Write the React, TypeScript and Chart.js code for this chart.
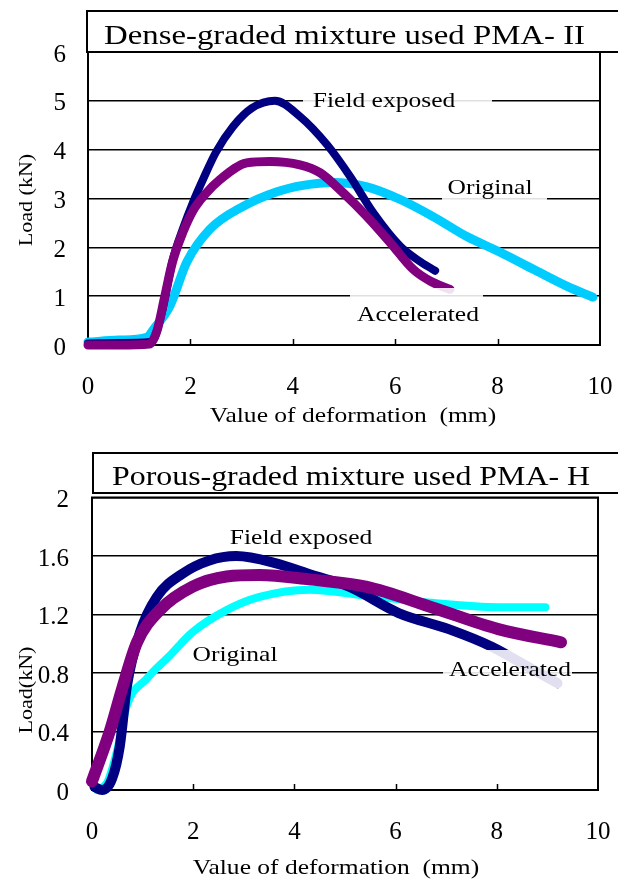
import React, { useEffect, useRef } from 'react';
import { Chart, registerables } from 'chart.js';

Chart.register(...registerables);

// ---------- Data: Dense-graded mixture (PMA-II) ----------
const denseFieldX = [0, 0.6, 1.2, 1.3, 1.45, 1.66, 1.86, 2.05, 2.25, 2.5, 2.83, 3.2, 3.65, 4.14, 4.67, 5.12, 5.57, 6.1, 6.5, 6.78];
const denseFieldY = [0.03, 0.04, 0.06, 0.15, 0.7, 1.76, 2.4, 2.92, 3.4, 3.95, 4.47, 4.85, 5.0, 4.68, 4.1, 3.45, 2.71, 2.02, 1.7, 1.52];
const denseAccelX = [0, 0.6, 1.2, 1.35, 1.5, 1.65, 1.85, 2.05, 2.3, 2.58, 3.1, 3.55, 4.14, 4.53, 4.98, 5.45, 5.9, 6.35, 6.7, 7.07];
const denseAccelY = [0.0, 0.0, 0.02, 0.3, 1.0, 1.7, 2.3, 2.75, 3.1, 3.39, 3.73, 3.76, 3.69, 3.53, 3.12, 2.63, 2.1, 1.55, 1.3, 1.14];
const denseOrigX = [0, 0.6, 1.15, 1.3, 1.6, 1.93, 2.38, 3.03, 3.69, 4.2, 4.79, 5.45, 6.1, 6.74, 7.4, 8.05, 8.7, 9.36, 9.86];
const denseOrigY = [0.06, 0.1, 0.16, 0.35, 0.8, 1.7, 2.37, 2.84, 3.14, 3.27, 3.33, 3.24, 2.98, 2.63, 2.22, 1.9, 1.55, 1.2, 0.98];

// ---------- Data: Porous-graded mixture (PMA-H) ----------
const porousFieldX = [0.05, 0.2, 0.4, 0.55, 0.69, 0.95, 1.28, 1.79, 2.32, 2.85, 3.64, 4.35, 5.08, 6.06, 7.05, 7.9, 8.68, 9.2];
const porousFieldY = [0.02, 0.0, 0.08, 0.3, 0.71, 1.08, 1.32, 1.48, 1.57, 1.6, 1.55, 1.47, 1.39, 1.21, 1.1, 0.98, 0.83, 0.73];
const porousAccelX = [0, 0.35, 0.61, 0.89, 1.34, 1.99, 2.66, 3.31, 4.29, 5.41, 6.71, 8.03, 9.27];
const porousAccelY = [0.06, 0.4, 0.71, 1.01, 1.23, 1.39, 1.46, 1.47, 1.44, 1.39, 1.25, 1.1, 1.01];
const porousOrigX = [0.1, 0.3, 0.49, 0.69, 1.08, 1.54, 1.99, 2.66, 3.31, 4.29, 5.41, 6.71, 8.03, 8.96];
const porousOrigY = [0.0, 0.05, 0.26, 0.58, 0.76, 0.92, 1.08, 1.23, 1.32, 1.37, 1.33, 1.28, 1.25, 1.25];

// ---------- Ticks & labels ----------
const xTickValues = [0, 2, 4, 6, 8, 10];
const xTickLabels = ['0', '2', '4', '6', '8', '10'];
const denseYTickLabels = ['0', '1', '2', '3', '4', '5', '6'];
const porousYTickLabels = ['0', '0.4', '0.8', '1.2', '1.6', '2'];
const seriesNames = ['Accelerated', 'Field exposed', 'Original'];
const xTitle = 'Value of deformation  (mm)';

const FONT = "'Liberation Serif', 'Times New Roman', serif";
const STRETCH = 1.16;

const pts = (xs: number[], ys: number[]) => xs.map((x, i) => ({ x, y: ys[i] }));

type Lbl = { text: string; x: number; y: number; size: number; rot?: number; box?: number[] };
type Spec = {
  title: string; titleX: number; titleBase: number; titleWidth: number; titleBox: number[];
  labels: Lbl[];
};

function drawStretched(ctx: CanvasRenderingContext2D, l: Lbl) {
  ctx.save();
  ctx.translate(l.x, l.y);
  if (l.rot) ctx.rotate(l.rot);
  ctx.scale(STRETCH, 1);
  ctx.font = `${l.size}px ${FONT}`;
  ctx.fillStyle = '#000';
  ctx.textAlign = 'center';
  ctx.textBaseline = 'middle';
  ctx.fillText(l.text, 0, 0);
  ctx.restore();
}

function makeDecor(spec: Spec) {
  return {
    id: 'decor',
    beforeDatasetsDraw(chart: any) {
      const { ctx, chartArea: a, scales } = chart;
      ctx.save();
      ctx.strokeStyle = '#000';
      ctx.lineWidth = 1.5;
      for (const v of xTickValues.slice(1, -1)) {
        const px = Math.round(scales.x.getPixelForValue(v)) + 0.5;
        ctx.beginPath();
        ctx.moveTo(px, a.bottom);
        ctx.lineTo(px, a.bottom - 6);
        ctx.stroke();
      }
      ctx.lineWidth = 2;
      ctx.strokeRect(a.left, a.top, a.right - a.left, a.bottom - a.top);
      ctx.restore();
    },
    afterDatasetsDraw(chart: any) {
      const ctx = chart.ctx as CanvasRenderingContext2D;
      for (const l of spec.labels) {
        if (l.box) {
          ctx.save();
          ctx.fillStyle = 'rgba(255,255,255,0.88)';
          ctx.fillRect(l.box[0], l.box[1], l.box[2], l.box[3]);
          ctx.restore();
        }
        drawStretched(ctx, l);
      }
    },
    afterDraw(chart: any) {
      const ctx = chart.ctx as CanvasRenderingContext2D;
      ctx.save();
      ctx.strokeStyle = '#000';
      ctx.lineWidth = 2;
      const b = spec.titleBox;
      ctx.strokeRect(b[0], b[1], b[2], b[3]);
      ctx.font = `28px ${FONT}`;
      ctx.fillStyle = '#000';
      ctx.textAlign = 'left';
      ctx.textBaseline = 'alphabetic';
      const w = ctx.measureText(spec.title).width;
      ctx.translate(spec.titleX, spec.titleBase);
      ctx.scale(spec.titleWidth / w, 1);
      ctx.fillText(spec.title, 0, 0);
      ctx.restore();
    },
  };
}

function makeConfig(opts: {
  series: { x: number[]; y: number[] }[];
  colors: string[];
  widths: number[];
  yMax: number; yStep: number; yLabels: string[];
  yWidth: number; xHeight: number; padding: any; yPad: number;
  spec: Spec;
}): any {
  return {
    type: 'line',
    data: {
      datasets: opts.series.map((s, i) => ({
        label: seriesNames[i],
        data: pts(s.x, s.y),
        borderColor: opts.colors[i],
        backgroundColor: opts.colors[i],
        borderWidth: opts.widths[i],
        pointRadius: 0,
        fill: false,
        cubicInterpolationMode: 'monotone',
        borderCapStyle: 'round',
        borderJoinStyle: 'round',
        clip: false,
      })),
    },
    options: {
      animation: false,
      responsive: false,
      maintainAspectRatio: false,
      devicePixelRatio: 1,
      layout: { padding: opts.padding },
      plugins: { legend: { display: false }, tooltip: { enabled: false }, title: { display: false } },
      scales: {
        x: {
          type: 'linear',
          min: 0,
          max: 10,
          grid: { display: false, drawTicks: false },
          border: { display: true, color: '#000', width: 2 },
          ticks: {
            stepSize: 2,
            autoSkip: false,
            maxRotation: 0,
            padding: 27,
            color: '#000',
            font: { family: FONT, size: 25 },
            callback: (v: number) => xTickLabels[Math.round(v / 2)],
          },
          afterFit: (s: any) => {
            s.height = opts.xHeight;
            s.paddingLeft = 0;
            s.paddingRight = 0;
          },
        },
        y: {
          type: 'linear',
          min: 0,
          max: opts.yMax,
          grid: { display: true, color: '#000', lineWidth: 1.5, drawTicks: false },
          border: { display: true, color: '#000', width: 2 },
          ticks: {
            stepSize: opts.yStep,
            autoSkip: false,
            padding: opts.yPad,
            labelOffset: 3,
            color: '#000',
            font: { family: FONT, size: 25 },
            callback: (v: number) => opts.yLabels[Math.round(v / opts.yStep)],
          },
          afterFit: (s: any) => {
            s.width = opts.yWidth;
            s.paddingTop = 0;
            s.paddingBottom = 0;
          },
        },
      },
    },
    plugins: [makeDecor(opts.spec)],
  };
}

const denseSpec: Spec = {
  title: 'Dense-graded mixture used PMA- II',
  titleX: 104, titleBase: 44, titleWidth: 481, titleBox: [87, 11, 560, 41],
  labels: [
    { text: 'Field exposed', x: 384, y: 101, size: 22, box: [303, 89, 189, 24] },
    { text: 'Original', x: 490, y: 188, size: 22, box: [442, 177, 105, 23] },
    { text: 'Accelerated', x: 418, y: 315, size: 22, box: [350, 288, 133, 38] },
    { text: 'Load (kN)', x: 27, y: 200, size: 19, rot: -Math.PI / 2 },
    { text: xTitle, x: 353, y: 416, size: 22 },
  ],
};

const porousSpec: Spec = {
  title: 'Porous-graded mixture used PMA- H',
  titleX: 112, titleBase: 44, titleWidth: 478, titleBox: [93, 12, 560, 40],
  labels: [
    { text: 'Field exposed', x: 301, y: 97, size: 22 },
    { text: 'Original', x: 235, y: 214, size: 22 },
    { text: 'Accelerated', x: 510, y: 229, size: 22, box: [443, 209, 129, 38] },
    { text: 'Load(kN)', x: 27, y: 249, size: 19, rot: -Math.PI / 2 },
    { text: xTitle, x: 336, y: 427, size: 22 },
  ],
};

function ChartCanvas({ config, top }: { config: () => any; top: number }) {
  const ref = useRef<HTMLCanvasElement | null>(null);
  useEffect(() => {
    if (!ref.current) return;
    const chart = new Chart(ref.current, config());
    return () => chart.destroy();
  }, []);
  return (
    <canvas
      ref={ref}
      width={618}
      height={441}
      style={{ position: 'absolute', left: 0, top, width: 618, height: 441, display: 'block' }}
    />
  );
}

export default function App() {
  return (
    <div style={{ position: 'absolute', left: 0, top: 0, width: 618, height: 882, background: '#fff', overflow: 'hidden' }}>
      <ChartCanvas
        top={0}
        config={() =>
          makeConfig({
            series: [
              { x: denseAccelX, y: denseAccelY },
              { x: denseFieldX, y: denseFieldY },
              { x: denseOrigX, y: denseOrigY },
            ],
            colors: ['#800080', '#000080', '#00CCFF'],
            widths: [9, 8, 9],
            yMax: 6, yStep: 1, yLabels: denseYTickLabels,
            yWidth: 88, xHeight: 96, padding: { left: 0, top: 52, right: 18, bottom: 0 }, yPad: 22,
            spec: denseSpec,
          })
        }
      />
      <ChartCanvas
        top={441}
        config={() =>
          makeConfig({
            series: [
              { x: porousAccelX, y: porousAccelY },
              { x: porousFieldX, y: porousFieldY },
              { x: porousOrigX, y: porousOrigY },
            ],
            colors: ['#800080', '#000080', '#00FFFF'],
            widths: [12, 10, 8],
            yMax: 2, yStep: 0.4, yLabels: porousYTickLabels,
            yWidth: 92, xHeight: 92, padding: { left: 0, top: 56.5, right: 20, bottom: 0 }, yPad: 23,
            spec: porousSpec,
          })
        }
      />
    </div>
  );
}
